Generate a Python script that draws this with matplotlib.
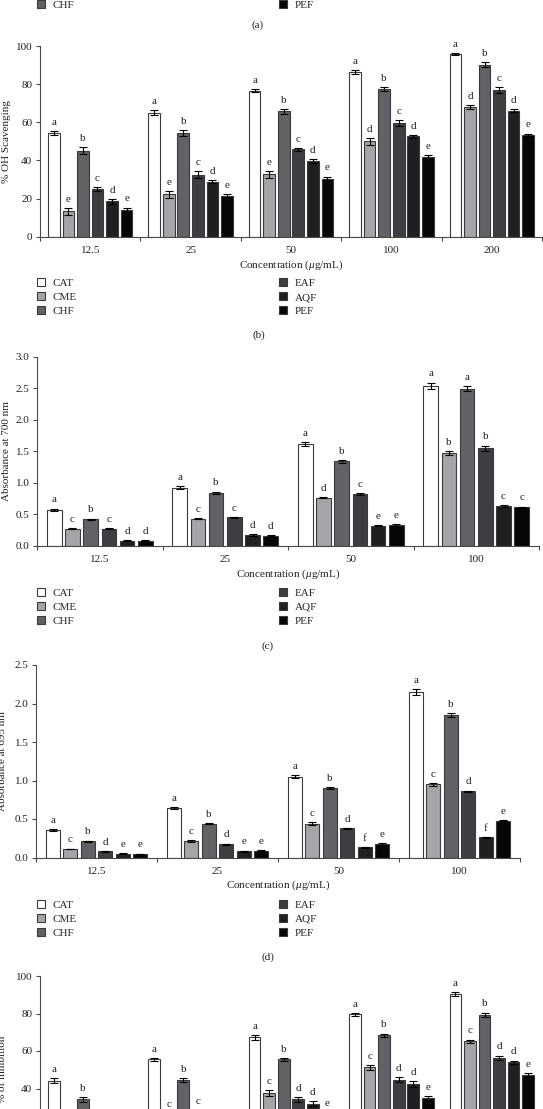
import numpy as np
import matplotlib.pyplot as plt

plt.rcParams['font.family'] = ['Liberation Serif', 'DejaVu Serif']
plt.rcParams['mathtext.fontset'] = 'custom'
plt.rcParams['mathtext.rm'] = 'Liberation Serif'
plt.rcParams['mathtext.it'] = 'Liberation Serif:italic'

# series shared by all panels
series = ['CAT', 'CME', 'CHF', 'EAF', 'AQF', 'PEF']
colors = ['#ffffff', '#a3a5a8', '#616266', '#3d3e42', '#1f1f22', '#060606']

# panel (b): hydroxyl radical scavenging
conc_b = ['12.5', '25', '50', '100', '200']
oh_means = [
    [54.5, 65.0, 76.5, 86.3, 95.8],
    [13.3, 22.2, 32.8, 50.0, 68.0],
    [45.0, 54.5, 65.8, 77.5, 90.2],
    [25.0, 32.5, 45.8, 59.8, 76.8],
    [18.5, 28.8, 39.7, 52.6, 66.0],
    [13.8, 21.5, 30.5, 42.0, 53.5],
]
oh_errs = [
    [1.0, 1.2, 0.8, 1.0, 0.6],
    [1.8, 1.8, 1.8, 1.8, 1.2],
    [1.8, 1.5, 1.2, 1.0, 1.2],
    [1.2, 1.8, 0.8, 1.5, 1.5],
    [1.2, 0.8, 1.2, 0.8, 0.8],
    [1.5, 1.0, 1.0, 0.8, 0.6],
]
oh_letters = [
    ['a', 'a', 'a', 'a', 'a'],
    ['e', 'e', 'e', 'd', 'd'],
    ['b', 'b', 'b', 'b', 'b'],
    ['c', 'c', 'c', 'c', 'c'],
    ['d', 'd', 'd', 'd', 'd'],
    ['e', 'e', 'e', 'e', 'e'],
]

# panel (c): absorbance at 700 nm
conc_c = ['12.5', '25', '50', '100']
a700_means = [
    [0.57, 0.92, 1.61, 2.54],
    [0.27, 0.43, 0.76, 1.47],
    [0.42, 0.84, 1.34, 2.49],
    [0.27, 0.45, 0.82, 1.55],
    [0.08, 0.17, 0.32, 0.63],
    [0.08, 0.16, 0.33, 0.61],
]
a700_errs = [
    [0.02, 0.02, 0.03, 0.05],
    [0.01, 0.01, 0.01, 0.03],
    [0.01, 0.02, 0.02, 0.04],
    [0.01, 0.01, 0.01, 0.04],
    [0.005, 0.01, 0.01, 0.02],
    [0.005, 0.01, 0.01, 0.01],
]
a700_letters = [
    ['a', 'a', 'a', 'a'],
    ['c', 'c', 'd', 'b'],
    ['b', 'b', 'b', 'a'],
    ['c', 'c', 'c', 'b'],
    ['d', 'd', 'e', 'c'],
    ['d', 'd', 'e', 'c'],
]

# panel (d): absorbance at 695 nm
conc_d = ['12.5', '25', '50', '100']
a695_means = [
    [0.36, 0.64, 1.05, 2.15],
    [0.11, 0.21, 0.44, 0.95],
    [0.21, 0.44, 0.90, 1.85],
    [0.08, 0.17, 0.38, 0.86],
    [0.05, 0.08, 0.13, 0.26],
    [0.045, 0.09, 0.175, 0.48],
]
a695_errs = [
    [0.01, 0.015, 0.015, 0.04],
    [0.005, 0.015, 0.015, 0.02],
    [0.01, 0.01, 0.01, 0.03],
    [0.005, 0.01, 0.005, 0.01],
    [0.005, 0.01, 0.01, 0.01],
    [0.005, 0.01, 0.01, 0.01],
]
a695_letters = [
    ['a', 'a', 'a', 'a'],
    ['c', 'c', 'c', 'c'],
    ['b', 'b', 'b', 'b'],
    ['d', 'd', 'd', 'd'],
    ['e', 'e', 'f', 'f'],
    ['e', 'e', 'e', 'e'],
]

# panel (e): % of inhibition (cut off at the bottom; hidden letters unknown)
conc_e = ['12.5', '25', '50', '100', '200']
inh_means = [
    [44.2, 55.5, 67.3, 79.6, 90.3],
    [18.0, 25.5, 37.5, 51.3, 65.3],
    [34.2, 44.5, 55.6, 68.5, 79.3],
    [14.0, 27.0, 34.2, 44.8, 56.4],
    [11.0, 20.0, 32.0, 42.3, 54.1],
    [8.0, 15.0, 26.0, 34.8, 47.2],
]
inh_errs = [
    [1.2, 0.8, 1.2, 0.8, 1.0],
    [1.2, 1.2, 1.5, 1.2, 0.8],
    [1.2, 1.2, 0.8, 0.8, 1.2],
    [1.2, 1.2, 1.2, 1.2, 1.2],
    [1.2, 1.2, 1.5, 1.5, 0.8],
    [1.2, 1.2, 1.2, 1.2, 1.0],
]
inh_letters = [
    ['a', 'a', 'a', 'a', 'a'],
    ['', 'c', 'c', 'c', 'c'],
    ['b', 'b', 'b', 'b', 'b'],
    ['', 'c', 'd', 'd', 'd'],
    ['', '', 'd', 'd', 'd'],
    ['', '', 'e', 'e', 'e'],
]

W, H = 543, 1109
fig = plt.figure(figsize=(W / 100, H / 100), dpi=100)
fig.patch.set_facecolor('white')

pitch, width = 0.145, 0.116
edge = '#3a3a3a'
axcol = '#4a4a4a'
txtcol = '#222222'
xlab = r'Concentration ($\mu$g/mL)'


def panel(l, t, r, b, cats, means, errs, letters, ylim, yticks, ylabel, fmt, ylab_x):
    ax = fig.add_axes([l / W, 1 - b / H, (r - l) / W, (b - t) / H])
    x = np.arange(len(cats))
    handles = []
    for i, name in enumerate(series):
        pos = x + (i - 2.5) * pitch
        bars = ax.bar(pos, means[i], width, yerr=errs[i], color=colors[i],
                      edgecolor=edge, linewidth=0.8, label=name,
                      error_kw=dict(ecolor='black', elinewidth=0.8, capsize=2.8, capthick=0.8))
        handles.append(bars.patches[0])
        for xp, m, e, lt in zip(pos, means[i], errs[i], letters[i]):
            if lt:
                ax.annotate(lt, (xp, m + e), xytext=(0, 3), textcoords='offset points',
                            ha='center', va='bottom', fontsize=8, color=txtcol)
    ax.set_xlim(-0.5, len(cats) - 0.5)
    ax.set_ylim(*ylim)
    ax.set_yticks(yticks)
    ax.set_yticklabels([fmt.format(v) for v in yticks])
    ax.set_xticks(np.arange(len(cats) + 1) - 0.5)
    ax.set_xticklabels([])
    ax.set_xticks(x, minor=True)
    ax.set_xticklabels(cats, minor=True)
    ax.tick_params(axis='x', which='major', length=3, width=0.8, color=axcol)
    ax.tick_params(axis='x', which='minor', length=0, pad=7, labelsize=8, labelcolor=txtcol)
    ax.tick_params(axis='y', length=3, width=0.8, color=axcol, pad=2.5, labelsize=8, labelcolor=txtcol)
    for s in ['top', 'right']:
        ax.spines[s].set_visible(False)
    for s in ['left', 'bottom']:
        ax.spines[s].set_color(axcol)
        ax.spines[s].set_linewidth(0.8)
    ax.set_ylabel(ylabel, fontsize=8, color=txtcol)
    ax.yaxis.set_label_coords((ylab_x - l) / (r - l), 0.5)
    ax.set_xlabel(xlab, fontsize=8, color=txtcol, labelpad=2)
    return handles


def legend(handles, top_px):
    kw = dict(loc='upper left', frameon=False, fontsize=8, handlelength=0.7,
              handleheight=0.7, handletextpad=0.7, labelspacing=0.37,
              borderpad=0, borderaxespad=0, labelcolor=txtcol)
    fig.legend(handles[:3], series[:3], bbox_to_anchor=(37 / W, 1 - top_px / H), **kw)
    fig.legend(handles[3:], series[3:], bbox_to_anchor=(279 / W, 1 - top_px / H), **kw)


def tag(s, x, y):
    fig.text(x / W, 1 - y / H, s, ha='center', va='center', fontsize=8, color=txtcol)


hb = panel(40, 46, 542, 236.7, conc_b, oh_means, oh_errs, oh_letters,
           (0, 100), [0, 20, 40, 60, 80, 100], '% OH Scavenging', '{:.0f}', 11)
hc = panel(37, 356.7, 539, 545.7, conc_c, a700_means, a700_errs, a700_letters,
           (0, 3.0), [0, 0.5, 1.0, 1.5, 2.0, 2.5, 3.0], 'Absorbance at 700 nm', '{:.1f}', 11)
hd = panel(36, 665, 520, 857.5, conc_d, a695_means, a695_errs, a695_letters,
           (0, 2.5), [0, 0.5, 1.0, 1.5, 2.0, 2.5], 'Absorbance at 695 nm', '{:.1f}', 7)
he = panel(40, 976, 542, 1163.5, conc_e, inh_means, inh_errs, inh_letters,
           (0, 100), [0, 20, 40, 60, 80, 100], '% of inhibition', '{:.0f}', 7)

# tail of the panel (a) legend at the very top
legend(hb, -28)
tag('(a)', 258, 25)
legend(hb, 278.5)
tag('(b)', 259, 335)
legend(hc, 588)
tag('(c)', 268, 646)
legend(hd, 900)
tag('(d)', 268, 957)

fig.savefig('out.png', dpi=100)
